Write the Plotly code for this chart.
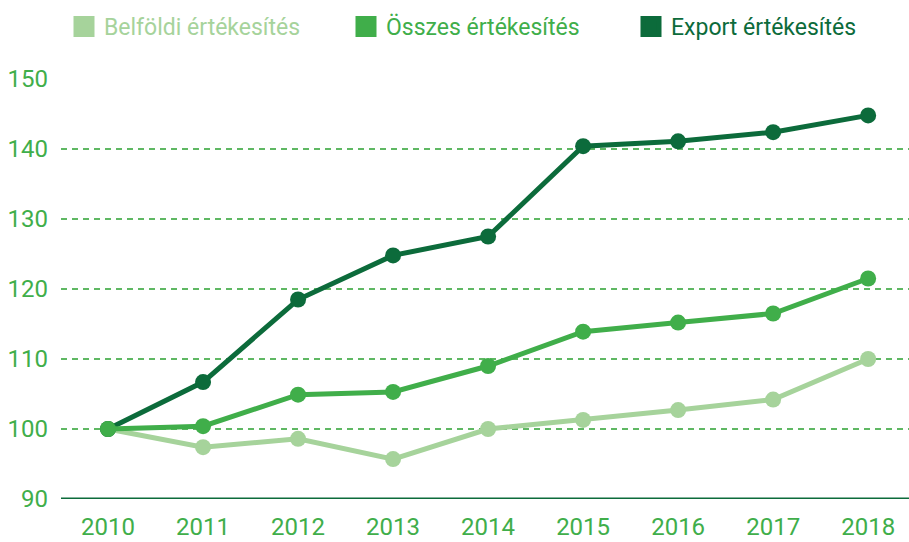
import plotly.graph_objects as go

years = [2010, 2011, 2012, 2013, 2014, 2015, 2016, 2017, 2018]
belfoldi = [100, 97.4, 98.6, 95.7, 100.0, 101.3, 102.7, 104.2, 110.0]
osszes = [100, 100.4, 104.9, 105.3, 109.0, 113.9, 115.2, 116.5, 121.5]
export = [100, 106.7, 118.5, 124.8, 127.5, 140.4, 141.1, 142.4, 144.8]
names = ["Belföldi értékesítés", "Összes értékesítés", "Export értékesítés"]
colors = ["#a6d39b", "#40ae4a", "#0c6b3b"]
ytick_vals = [90, 100, 110, 120, 130, 140, 150]

FONT = "Roboto"
TICK_SIZE = 24
LEG_SIZE = 23
series = [belfoldi, osszes, export]
fig = go.Figure()
for i in [0, 2, 1]:
    fig.add_trace(go.Scatter(
        x=years, y=series[i], mode="lines+markers", name=names[i],
        line=dict(color=colors[i], width=5), marker=dict(color=colors[i], size=16),
        showlegend=False, cliponaxis=False))
legend_keys = ["legend", "legend2", "legend3"]
legend_x = [64, 346, 631]
for name, col, lk in zip(names, colors, legend_keys):
    fig.add_trace(go.Scatter(
        x=[None], y=[None], mode="markers", name=name,
        marker=dict(color=col, size=24, symbol="square",
                    line=dict(color=col, width=5)),
        showlegend=True, legend=lk))

leg = {}
for lk, lx, col in zip(legend_keys, legend_x, colors):
    leg[lk] = dict(x=lx / 909, y=1 - 5 / 542, xref="container", yref="container",
                   xanchor="left", yanchor="top", itemsizing="trace",
                   bgcolor="rgba(0,0,0,0)",
                   font=dict(family=FONT, size=LEG_SIZE, color=col))

fig.update_layout(
    width=909, height=542,
    margin=dict(l=61, r=0, t=79, b=43, autoexpand=False),
    paper_bgcolor="white", plot_bgcolor="white",
    font=dict(family=FONT, size=TICK_SIZE, color="#40ae4a"),
    xaxis=dict(range=[2009.505, 2018.43], tickvals=years, showgrid=False,
               zeroline=False, showline=False, ticks="", ticklabelstandoff=11,
               tickfont=dict(color="#40ae4a", size=TICK_SIZE)),
    yaxis=dict(range=[90, 150], tickvals=ytick_vals, showgrid=True,
               gridcolor="#5fb863", griddash="6px,5px", gridwidth=1.5,
               zeroline=False, showline=False, ticks="", ticklabelstandoff=12,
               tickfont=dict(color="#40ae4a", size=TICK_SIZE)),
    **leg,
)
fig.add_hline(y=90, line=dict(color="#0c6b3b", width=3), layer="above")
fig.write_html("out.html", config={"displayModeBar": False},
               post_script="document.body.style.margin='0px';")
